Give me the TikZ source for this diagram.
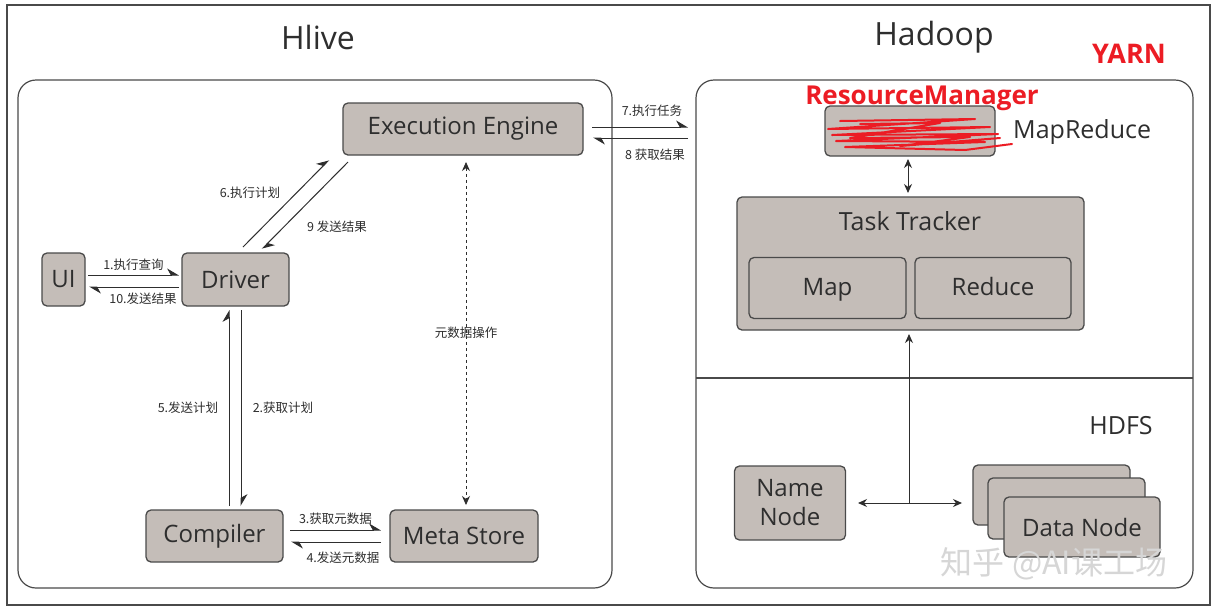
\documentclass[tikz,border=0pt]{standalone}
\usepackage{fontspec}
\newfontfamily\sans{Open Sans}
\newfontfamily\cjk{Noto Sans CJK SC}
\usetikzlibrary{arrows.meta}
\definecolor{boxfill}{HTML}{C4BDB8}
\definecolor{boxline}{HTML}{4A4A4A}
\definecolor{txt}{HTML}{2E2E2E}
\definecolor{redmark}{HTML}{EC1C24}
\tikzset{
  x=1pt, y=-1pt,
  gbox/.style={draw=boxline, fill=boxfill, rounded corners=5pt, line width=1.3pt, inner sep=0pt, text=txt, font=\sans\fontsize{24}{28}\selectfont, align=center},
  evenbase/.style={text height=18pt, text depth=4pt},
  panel/.style={draw=boxline, line width=1.2pt, rounded corners=18pt},
  lbl/.style={font=\cjk\fontsize{12.5}{14}\selectfont, text=txt, inner sep=1pt},
  harp/.style={draw=txt, line width=1pt, -{Stealth[harpoon, length=11pt, width=13pt]}},
  dbl/.style={draw=txt, line width=1pt, {Stealth[length=9pt, width=8pt]}-{Stealth[length=9pt, width=8pt]}},
  ttl/.style={font=\sans\fontsize{32}{36}\selectfont, text=txt},
  redtxt/.style={font=\sans\bfseries\fontsize{26}{28}\selectfont, text=redmark},
}
\begin{document}
\begin{tikzpicture}
\useasboundingbox (0,0) rectangle (1215,614);
\fill[white] (0,0) rectangle (1215,614);
% outer frame
\draw[draw=boxline, line width=1.6pt] (7,5) rectangle (1210,605);
% titles
\node[ttl] (thive) at (318,37) {Hlive};
\node[ttl] (thadoop) at (934,37) {Hadoop};
\node[redtxt, font=\sans\bfseries\fontsize{27}{30}\selectfont] (yarn) at (1129,54) {YARN};
% panels
\draw[panel] (18,80) rectangle (612,588);
\draw[panel] (696,80) rectangle (1193,588);
\draw[draw=boxline, line width=1.2pt] (696,378) -- (1193,378);
% Hive boxes
\node[gbox, minimum width=240pt, minimum height=52pt] (ee) at (463,129) {Execution Engine};
\node[gbox, minimum width=43pt, minimum height=53pt] (ui) at (63.5,279.5) {UI};
\node[gbox, minimum width=107pt, minimum height=53pt] (drv) at (235.5,279.5) {Driver};
\node[gbox, minimum width=137pt, minimum height=52pt] (comp) at (214.5,536) {Compiler};
\node[gbox, minimum width=148pt, minimum height=52pt] (ms) at (464,536) {Meta Store};
% Hadoop boxes
\node[gbox, minimum width=170pt, minimum height=50pt] (jt) at (910,131) {};
\node[font=\sans\fontsize{25}{28}\selectfont, text=txt, anchor=west, inner sep=0pt] (mr) at (1013,132) {MapReduce};
\node[gbox, minimum width=347pt, minimum height=133pt] (tt) at (910.5,263.5) {};
\node[font=\sans\fontsize{25}{28}\selectfont, text=txt] (ttlbl) at (910,221) {Task Tracker};
\node[gbox, evenbase, minimum width=157pt, minimum height=61pt] (map) at (827.5,288) {Map};
\node[gbox, evenbase, minimum width=156pt, minimum height=61pt] (red) at (993,288) {Reduce};
\node[font=\sans\fontsize{25}{28}\selectfont, text=txt] (hdfs) at (1121,426) {HDFS};
\node[gbox, minimum width=111pt, minimum height=74pt, font=\sans\fontsize{24}{29}\selectfont] (nn) at (790,503) {Name\\Node};
\node[gbox, minimum width=157pt, minimum height=60pt] (dn1) at (1051.5,495) {};
\node[gbox, minimum width=157pt, minimum height=61pt] (dn2) at (1066.5,508.5) {};
\node[gbox, minimum width=156pt, minimum height=60pt] (dn3) at (1082,527) {Data Node};
% red annotations
\node[redtxt] (rm) at (922,98) {ResourceManager};
\draw[redmark, line width=2pt, line join=round, line cap=round]
  (840,121) -- (975,119) -- (828,129) -- (990,127) -- (832,135) -- (998,134) -- (836,141) -- (985,142) -- (845,147) -- (965,150) -- (1012,144)
  (860,124) -- (940,123) -- (850,138) -- (970,137) -- (900,146) -- (1000,138);
% Hive connectors
\coordinate (c1a) at (88,275); \coordinate (c1b) at (179,275);
\draw[harp] (c1a) -- (c1b) node[lbl, midway, above=3pt] {1.执行查询};
\coordinate (c10a) at (179,287); \coordinate (c10b) at (89,287);
\draw[harp] (c10a) -- (c10b) node[lbl, pos=0.4, below=4pt] {10.发送结果};
\coordinate (c6a) at (243,247); \coordinate (c6b) at (329,160);
\draw[harp] (c6a) -- (c6b);
\node[lbl] (l6) at (250,193) {6.执行计划};
\coordinate (c9a) at (348,162); \coordinate (c9b) at (262,249);
\draw[harp] (c9a) -- (c9b);
\node[lbl] (l9) at (337,227) {9 发送结果};
\coordinate (c5a) at (229,506); \coordinate (c5b) at (229,310);
\draw[harp] (c5a) -- (c5b);
\node[lbl] (l5) at (188,408) {5.发送计划};
\coordinate (c2a) at (241,310); \coordinate (c2b) at (241,506);
\draw[harp] (c2a) -- (c2b);
\node[lbl] (l2) at (283,408) {2.获取计划};
\coordinate (c3a) at (290,530); \coordinate (c3b) at (381,530);
\draw[harp] (c3a) -- (c3b) node[lbl, midway, above=4pt] {3.获取元数据};
\coordinate (c4a) at (381,542); \coordinate (c4b) at (291,542);
\draw[harp] (c4a) -- (c4b);
\node[lbl] (l4) at (343,558) {4.发送元数据};
\coordinate (mtop) at (466,162); \coordinate (mbot) at (466,505);
\draw[dbl, dashed, line width=0.8pt] (mtop) -- (mbot);
\node[lbl] (lmeta) at (466,333) {元数据操作};
% Hive -> Hadoop
\coordinate (c7a) at (592,127); \coordinate (c7b) at (688,127);
\draw[harp] (c7a) -- (c7b);
\node[lbl] (l7) at (652,111) {7.执行任务};
\coordinate (c8a) at (688,138); \coordinate (c8b) at (593,138);
\draw[harp] (c8a) -- (c8b);
\node[lbl] (l8) at (655,155) {8 获取结果};
% Hadoop connectors
\coordinate (jtb) at (908,159); \coordinate (ttt) at (908,193);
\draw[dbl] (jtb) -- (ttt);
\coordinate (hub) at (909,503); \coordinate (ttb) at (909,334);
\draw[draw=txt, line width=1pt, -{Stealth[length=9pt, width=8pt]}] (hub) -- (ttb);
\coordinate (nnr) at (858,503); \coordinate (dnl) at (962,503);
\draw[dbl] (nnr) -- (dnl);
% watermark
\node[font=\cjk\fontsize{32}{34}\selectfont, text=black!16] (wm) at (1054,564) {知乎 @AI课工场};
\end{tikzpicture}
\end{document}
